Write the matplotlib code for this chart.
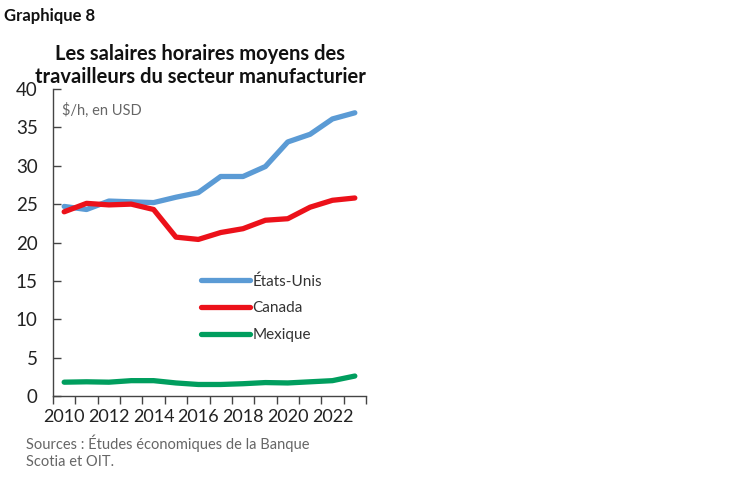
import matplotlib
matplotlib.use("Agg")
import matplotlib.pyplot as plt
import numpy as np

years = list(range(2010, 2024))
us = [24.7, 24.3, 25.4, 25.3, 25.2, 25.9, 26.5, 28.6, 28.6, 29.9, 33.1, 34.1, 36.1, 36.9]
canada = [24.0, 25.1, 24.9, 25.0, 24.3, 20.7, 20.4, 21.3, 21.8, 22.9, 23.1, 24.6, 25.5, 25.8]
mexico = [1.8, 1.85, 1.8, 2.0, 2.0, 1.7, 1.5, 1.5, 1.6, 1.75, 1.7, 1.85, 2.0, 2.6]
series_names = ["États-Unis", "Canada", "Mexique"]
colors = ["#5B9BD5", "#EC111A", "#009E5E"]
yticks = [0, 5, 10, 15, 20, 25, 30, 35, 40]

plt.rcParams['font.family'] = ['Lato', 'DejaVu Sans']

fig = plt.figure(figsize=(7.49, 4.82), dpi=100)
ax = fig.add_axes([53/749, 1-396/482, 313/749, 307/482])

x = np.arange(len(years))
for vals, name, c in zip([us, canada, mexico], series_names, colors):
    ax.plot(x, vals, color=c, lw=3.8, label=name, solid_capstyle='round', solid_joinstyle='round')

ax.set_xlim(-0.5, len(years) - 0.5)
ax.set_ylim(0, 40)
ax.set_yticks(yticks)
ax.set_yticklabels([str(v) for v in yticks], fontsize=13.5, color="#222222")
ax.tick_params(axis='y', direction='in', length=6, width=1, color="#444444", pad=11)

ax.set_xticks(np.arange(-0.5, len(years), 1.0))
ax.set_xticklabels([])
ax.set_xticks(x[::2], minor=True)
ax.set_xticklabels([str(y) for y in years[::2]], minor=True, fontsize=13, color="#222222")
ax.tick_params(axis='x', which='major', direction='out', length=6, width=1, color="#444444")
ax.tick_params(axis='x', which='minor', length=0, pad=9)

for s in ['top', 'right']:
    ax.spines[s].set_visible(False)
for s in ['left', 'bottom']:
    ax.spines[s].set_color("#444444")
    ax.spines[s].set_linewidth(1)

ax.text(9/313, 1 - 21/307, "$/h, en USD", transform=ax.transAxes, fontsize=10.5,
        color="#666666", va='center', ha='left')

leg = ax.legend(loc='upper left', bbox_to_anchor=((201-53)/313, (396-274)/307),
                frameon=False, fontsize=11, handlelength=3.2, handletextpad=0.15,
                labelspacing=0.85, borderpad=0, borderaxespad=0)
for t in leg.get_texts():
    t.set_color("#333333")

fig.text(4/749, 1-16/482, "Graphique 8", fontsize=12, fontweight='bold', va='center',
         ha='left', color="#111111")
fig.text(200/749, 1-54/482, "Les salaires horaires moyens des", fontsize=14.5, fontweight='bold',
         va='center', ha='center', color="#111111")
fig.text(200/749, 1-77/482, "travailleurs du secteur manufacturier", fontsize=14.5, fontweight='bold',
         va='center', ha='center', color="#111111")
fig.text(26/749, 1-443/482, "Sources : Études économiques de la Banque", fontsize=10.5,
         va='center', ha='left', color="#666666")
fig.text(26/749, 1-462/482, "Scotia et OIT.", fontsize=10.5,
         va='center', ha='left', color="#666666")

fig.savefig("out.png", dpi=100)
